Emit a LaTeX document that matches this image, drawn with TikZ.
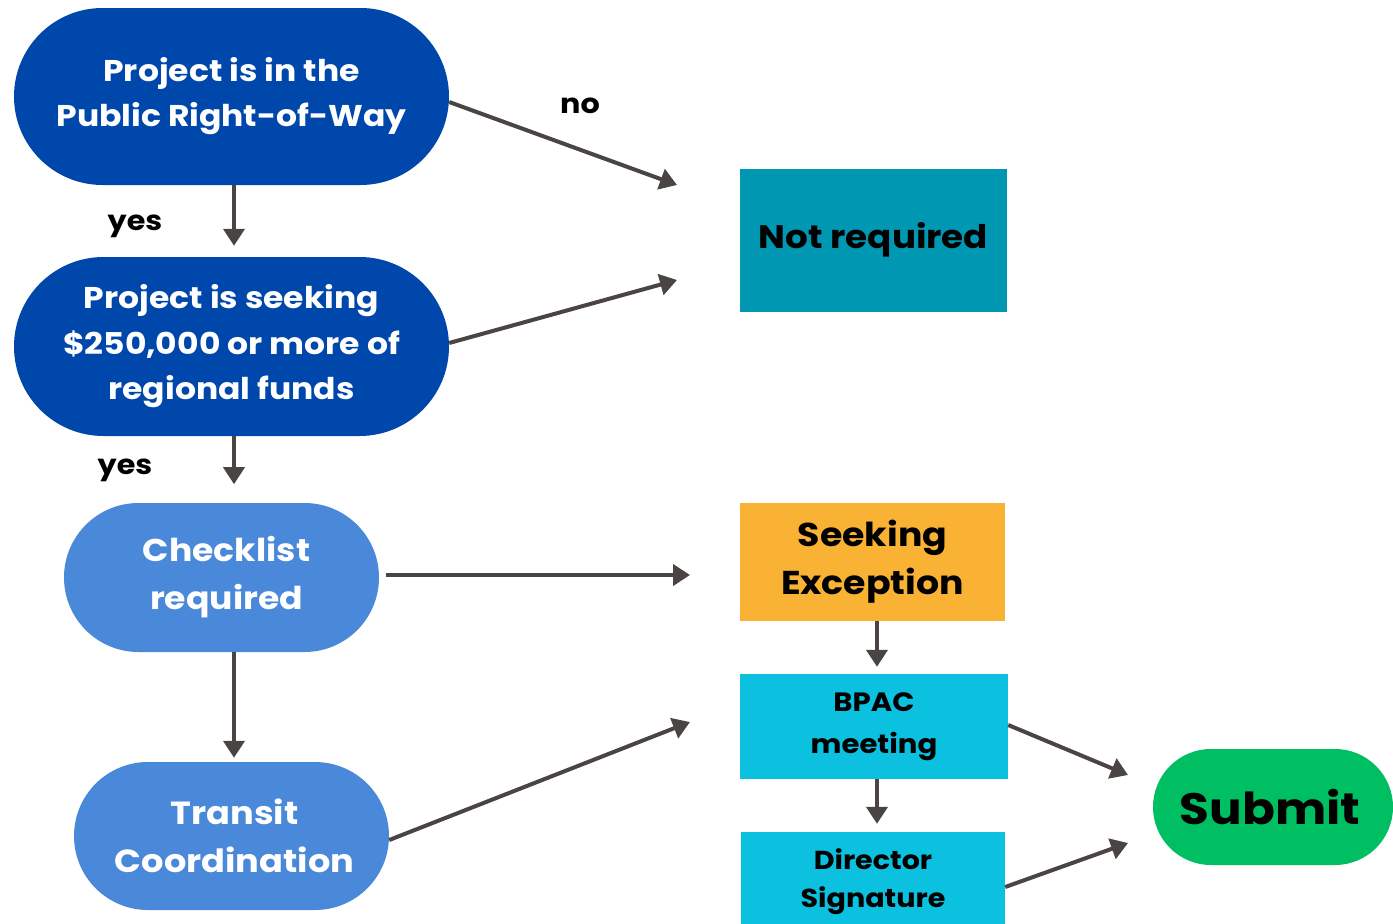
\documentclass[tikz,border=0pt]{standalone}
\usepackage{fontspec}
\setmainfont{Poppins}[FakeStretch=1.1]
\usetikzlibrary{arrows.meta,shapes.misc}
\definecolor{dblue}{HTML}{0047AB}
\definecolor{lblue}{HTML}{4A88DA}
\definecolor{teal1}{HTML}{0097B2}
\definecolor{orange1}{HTML}{F9B233}
\definecolor{cyan1}{HTML}{0CC0DF}
\definecolor{green1}{HTML}{00BF63}
\definecolor{arr}{HTML}{4A4543}
\tikzset{
  pill/.style={rounded rectangle, inner sep=0pt, align=center, text=white, font=\bfseries},
  box/.style={rectangle, inner sep=0pt, align=center, text=black, font=\bfseries},
  conn/.style={draw=arr, line width=4pt, -{Triangle[length=17pt,width=21pt]}},
  lbl/.style={font=\bfseries\fontsize{27.5}{30}\selectfont, text=black},
}
\begin{document}
\begin{tikzpicture}[x=1pt,y=-1pt]
\useasboundingbox (0,0) rectangle (1393,924);
% nodes
\node[pill, fill=dblue, minimum width=435pt, minimum height=177pt, font=\bfseries\fontsize{30}{45}\selectfont] (n1) at (231.5,96.5) {Project is in the\\Public Right-of-Way};
\node[pill, fill=dblue, minimum width=435pt, minimum height=179pt, font=\bfseries\fontsize{30}{45.5}\selectfont] (n2) at (231.5,346.5) {Project is seeking\\\$250,000 or more of\\regional funds};
\node[pill, fill=lblue, minimum width=315pt, minimum height=149pt, font=\bfseries\fontsize{31.5}{48}\selectfont] (n3) at (221.5,577.5) {\hspace*{10pt}Checklist\\\hspace*{10pt}required};
\node[pill, fill=lblue, minimum width=315pt, minimum height=148pt, font=\bfseries\fontsize{32}{48}\selectfont] (n4) at (231.5,836) {\hspace*{6pt}Transit\\\hspace*{6pt}Coordination};
\node[box, fill=teal1, minimum width=267pt, minimum height=143pt, font=\bfseries\fontsize{32.5}{36}\selectfont] (nr) at (873.5,240) {Not required};
\node[box, fill=orange1, minimum width=265pt, minimum height=118pt, font=\bfseries\fontsize{33}{48}\selectfont] (se) at (872.5,562) {Seeking\\Exception};
\node[box, fill=cyan1, minimum width=268pt, minimum height=105pt, font=\bfseries\fontsize{26.5}{42}\selectfont] (bp) at (874,726.5) {BPAC\\meeting};
\node[box, fill=cyan1, minimum width=264pt, minimum height=100pt, font=\bfseries\fontsize{26}{38}\selectfont] (ds) at (873,882) {Director\\Signature};
\node[pill, fill=green1, text=black, minimum width=240pt, minimum height=116pt, font=\bfseries\fontsize{44}{50}\selectfont] (sb) at (1273,807) {\hspace*{-6pt}Submit};
% free ends
\coordinate (c1) at (677,185);
\coordinate (c2) at (677,280);
\coordinate (c3) at (690,575);
\coordinate (c4) at (690,722);
\coordinate (c5) at (1128,775);
\coordinate (c6) at (1128,843);
% connectors
\draw[conn] ([yshift=-5.5pt]n1.east) -- (c1);
\draw[conn] ([yshift=3.5pt]n2.east) -- (c2);
\draw[conn] ([xshift=2.5pt]n1.south) -- ([xshift=2.5pt,yshift=11pt]n2.north);
\draw[conn] ([xshift=2.5pt]n2.south) -- ([xshift=2.5pt,yshift=-48pt]n2.south);
\draw[conn] ([xshift=7pt,yshift=2.5pt]n3.east) -- (c3);
\draw[conn] ([xshift=12.5pt]n3.south) -- ([xshift=2.5pt,yshift=4pt]n4.north);
\draw[conn] ([yshift=-4pt]n4.east) -- (c4);
\draw[conn] ([xshift=4.5pt]se.south) -- ([xshift=3pt,yshift=7pt]bp.north);
\draw[conn] ([xshift=3pt]bp.south) -- ([xshift=4pt,yshift=8pt]ds.north);
\draw[conn] ([yshift=1.5pt]bp.east) -- (c5);
\draw[conn] ([yshift=-5pt]ds.east) -- (c6);
% labels
\node[lbl] (lno) at (580,106) {no};
\node[lbl] (ly1) at (135,226) {yes};
\node[lbl] (ly2) at (125,470) {yes};
\end{tikzpicture}
\end{document}
